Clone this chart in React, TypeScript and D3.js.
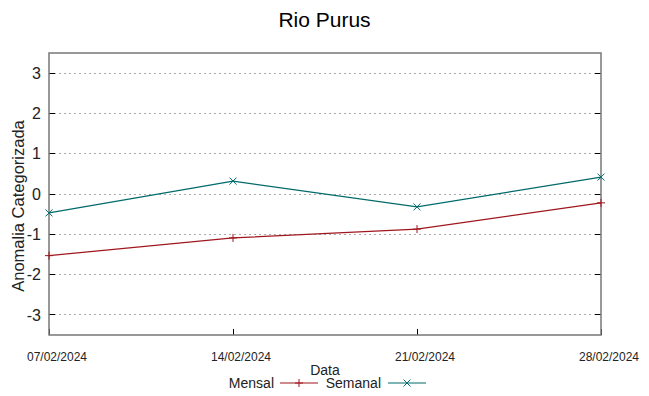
import React, { useRef, useEffect } from 'react';
import * as d3 from 'd3';

const dates = ['07/02/2024', '14/02/2024', '21/02/2024', '28/02/2024'];
const mensal = [-1.53, -1.09, -0.87, -0.22];
const semanal = [-0.47, 0.32, -0.32, 0.42];
const yTicks = [-3, -2, -1, 0, 1, 2, 3];

const RED = '#a0161d';
const TEAL = '#006a6a';

const App = () => {
  const svgRef = useRef<SVGSVGElement>(null);

  useEffect(() => {
    const svg = d3.select(svgRef.current);
    svg.selectAll('*').remove();
    const width = 649;
    const height = 396;
    const margin = { top: 53, right: 48, bottom: 61, left: 49 };
    const innerWidth = width - margin.left - margin.right;
    const innerHeight = height - margin.top - margin.bottom;
    const font = 'Liberation Sans, Arial, sans-serif';

    const x = d3.scalePoint<string>().domain(dates).range([0, innerWidth]);
    const y = d3.scaleLinear().domain([-3.5, 3.5]).range([innerHeight, 0]);

    svg.append('rect').attr('width', width).attr('height', height).attr('fill', '#fff');

    svg.append('text')
      .attr('x', width / 2).attr('y', 27)
      .attr('text-anchor', 'middle')
      .attr('font-family', font).attr('font-size', 21)
      .text('Rio Purus');

    const g = svg.append('g').attr('transform', `translate(${margin.left},${margin.top})`);

    // grid
    g.selectAll('.grid')
      .data(yTicks)
      .enter().append('line')
      .attr('x1', 0).attr('x2', innerWidth)
      .attr('y1', d => y(d)).attr('y2', d => y(d))
      .attr('stroke', '#aaa').attr('stroke-width', 1)
      .attr('stroke-dasharray', '2,3')
      .attr('shape-rendering', 'crispEdges');

    // y ticks inward both sides
    g.selectAll('.tl')
      .data(yTicks)
      .enter().append('line')
      .attr('x1', 0).attr('x2', 6)
      .attr('y1', d => y(d)).attr('y2', d => y(d))
      .attr('stroke', '#000').attr('shape-rendering', 'crispEdges');
    g.selectAll('.tr')
      .data(yTicks)
      .enter().append('line')
      .attr('x1', innerWidth - 6).attr('x2', innerWidth)
      .attr('y1', d => y(d)).attr('y2', d => y(d))
      .attr('stroke', '#000').attr('shape-rendering', 'crispEdges');

    g.selectAll('.yl')
      .data(yTicks)
      .enter().append('text')
      .attr('x', -8).attr('y', d => y(d))
      .attr('dy', '0.36em')
      .attr('text-anchor', 'end')
      .attr('font-family', font).attr('font-size', 16)
      .attr('fill', '#222')
      .text(d => d);

    g.selectAll('.xl')
      .data(dates)
      .enter().append('text')
      .attr('x', d => x(d)! + 8).attr('y', innerHeight + 26)
      .attr('text-anchor', 'middle')
      .attr('font-family', font).attr('font-size', 12)
      .attr('textLength', 60).attr('lengthAdjust', 'spacingAndGlyphs')
      .attr('fill', '#222')
      .text(d => d);

    // x tick marks
    g.selectAll('.xt')
      .data(dates)
      .enter().append('line')
      .attr('x1', d => x(d)!).attr('x2', d => x(d)!)
      .attr('y1', innerHeight).attr('y2', innerHeight - 6)
      .attr('stroke', '#000').attr('shape-rendering', 'crispEdges');

    g.append('rect')
      .attr('width', innerWidth).attr('height', innerHeight)
      .attr('fill', 'none').attr('stroke', '#777').attr('stroke-width', 1.5);

    svg.append('text')
      .attr('transform', `translate(24,206) rotate(-90)`)
      .attr('text-anchor', 'middle')
      .attr('font-family', font).attr('font-size', 16.5)
      .attr('fill', '#222')
      .text('Anomalia Categorizada');

    svg.append('text')
      .attr('x', 325).attr('y', 375)
      .attr('text-anchor', 'middle')
      .attr('font-family', font).attr('font-size', 14)
      .attr('fill', '#222')
      .text('Data');

    const line = d3.line<number>()
      .x((_, i) => x(dates[i])!)
      .y(d => y(d));

    g.append('path').datum(mensal)
      .attr('d', line).attr('fill', 'none').attr('stroke', RED).attr('stroke-width', 1.2);
    g.append('path').datum(semanal)
      .attr('d', line).attr('fill', 'none').attr('stroke', TEAL).attr('stroke-width', 1.2);

    const plus = (sel: any, cx: number, cy: number, c: string) => {
      sel.append('path')
        .attr('d', `M${cx - 4},${cy}H${cx + 4}M${cx},${cy - 4}V${cy + 4}`)
        .attr('stroke', c).attr('stroke-width', 1);
    };
    const cross = (sel: any, cx: number, cy: number, c: string) => {
      sel.append('path')
        .attr('d', `M${cx - 3.5},${cy - 3.5}L${cx + 3.5},${cy + 3.5}M${cx - 3.5},${cy + 3.5}L${cx + 3.5},${cy - 3.5}`)
        .attr('stroke', c).attr('stroke-width', 1);
    };
    mensal.forEach((v, i) => plus(g, x(dates[i])!, y(v), RED));
    semanal.forEach((v, i) => cross(g, x(dates[i])!, y(v), TEAL));

    // legend
    const ly = 383;
    svg.append('text')
      .attr('x', 274).attr('y', ly).attr('dy', '0.35em')
      .attr('text-anchor', 'end')
      .attr('font-family', font).attr('font-size', 14).attr('fill', '#222')
      .text('Mensal');
    svg.append('line').attr('x1', 280).attr('x2', 318).attr('y1', ly).attr('y2', ly)
      .attr('stroke', RED).attr('stroke-width', 1.2);
    plus(svg, 299, ly, RED);
    svg.append('text')
      .attr('x', 381).attr('y', ly).attr('dy', '0.35em')
      .attr('text-anchor', 'end')
      .attr('font-family', font).attr('font-size', 14).attr('fill', '#222')
      .text('Semanal');
    svg.append('line').attr('x1', 388).attr('x2', 426).attr('y1', ly).attr('y2', ly)
      .attr('stroke', TEAL).attr('stroke-width', 1.2);
    cross(svg, 407, ly, TEAL);
  }, []);

  return (
    <svg
      ref={svgRef}
      width={649}
      height={396}
      style={{ position: 'absolute', left: 0, top: 0 }}
    />
  );
};

export default App;
